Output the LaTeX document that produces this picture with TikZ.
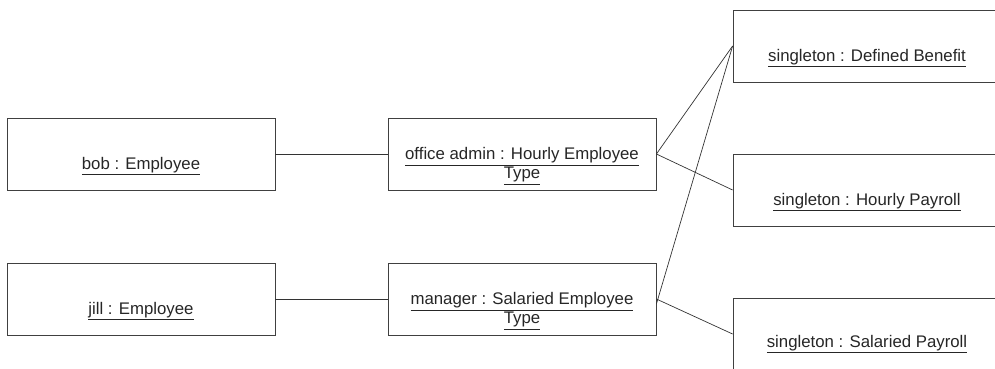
\documentclass[tikz,border=0pt]{standalone}
\usepackage{fontspec}
\setmainfont{Liberation Sans}
\usepackage{tikz}
\usetikzlibrary{positioning,calc}

\begin{document}
\begin{tikzpicture}[x=1pt,y=-1pt,
    obj/.style={draw=black!75,line width=0.8pt,minimum width=268,minimum height=72,inner sep=0pt},
    lbl/.style={font=\fontsize{16.8}{19}\selectfont,text=black!85,align=center,inner sep=0pt},
    link/.style={draw=black!80,line width=0.7pt}]
    \useasboundingbox (0,0) rectangle (995,368);
    \clip (0,0) rectangle (995,368);
    % employees
    \node (bob) at (141,154) [obj]{};
    \node (bobt) at (141,166) [lbl]{\underline{bob : Employee}};
    \node (jill) at (141,299) [obj]{};
    \node (jillt) at (141,311) [lbl]{\underline{jill : Employee}};
    % employee types
    \node (admin) at (522,154) [obj]{};
    \node (admint) at (522,166) [lbl]{\underline{office admin : Hourly Employee}\\\underline{Type}};
    \node (mgr) at (522,299) [obj]{};
    \node (mgrt) at (522,311) [lbl]{\underline{manager : Salaried Employee}\\\underline{Type}};
    % singletons
    \node (bene) at (867,46) [obj]{};
    \node (benet) at (867,58) [lbl]{\underline{singleton : Defined Benefit}};
    \node (hpay) at (867,190) [obj]{};
    \node (hpayt) at (867,202) [lbl]{\underline{singleton : Hourly Payroll}};
    \node (spay) at (867,334) [obj]{};
    \node (spayt) at (867,344) [lbl]{\underline{singleton : Salaried Payroll}};
    % links
    \draw[link] (bob) -- (admin);
    \draw[link] (jill) -- (mgr);
    \draw[link] (admin.east) -- (bene.west);
    \draw[link] (admin.east) -- (hpay.west);
    \draw[link] ([yshift=-5]mgr.east) -- (bene.west);
    \draw[link] (mgr.east) -- (spay.west);
  \end{tikzpicture}
\end{document}
